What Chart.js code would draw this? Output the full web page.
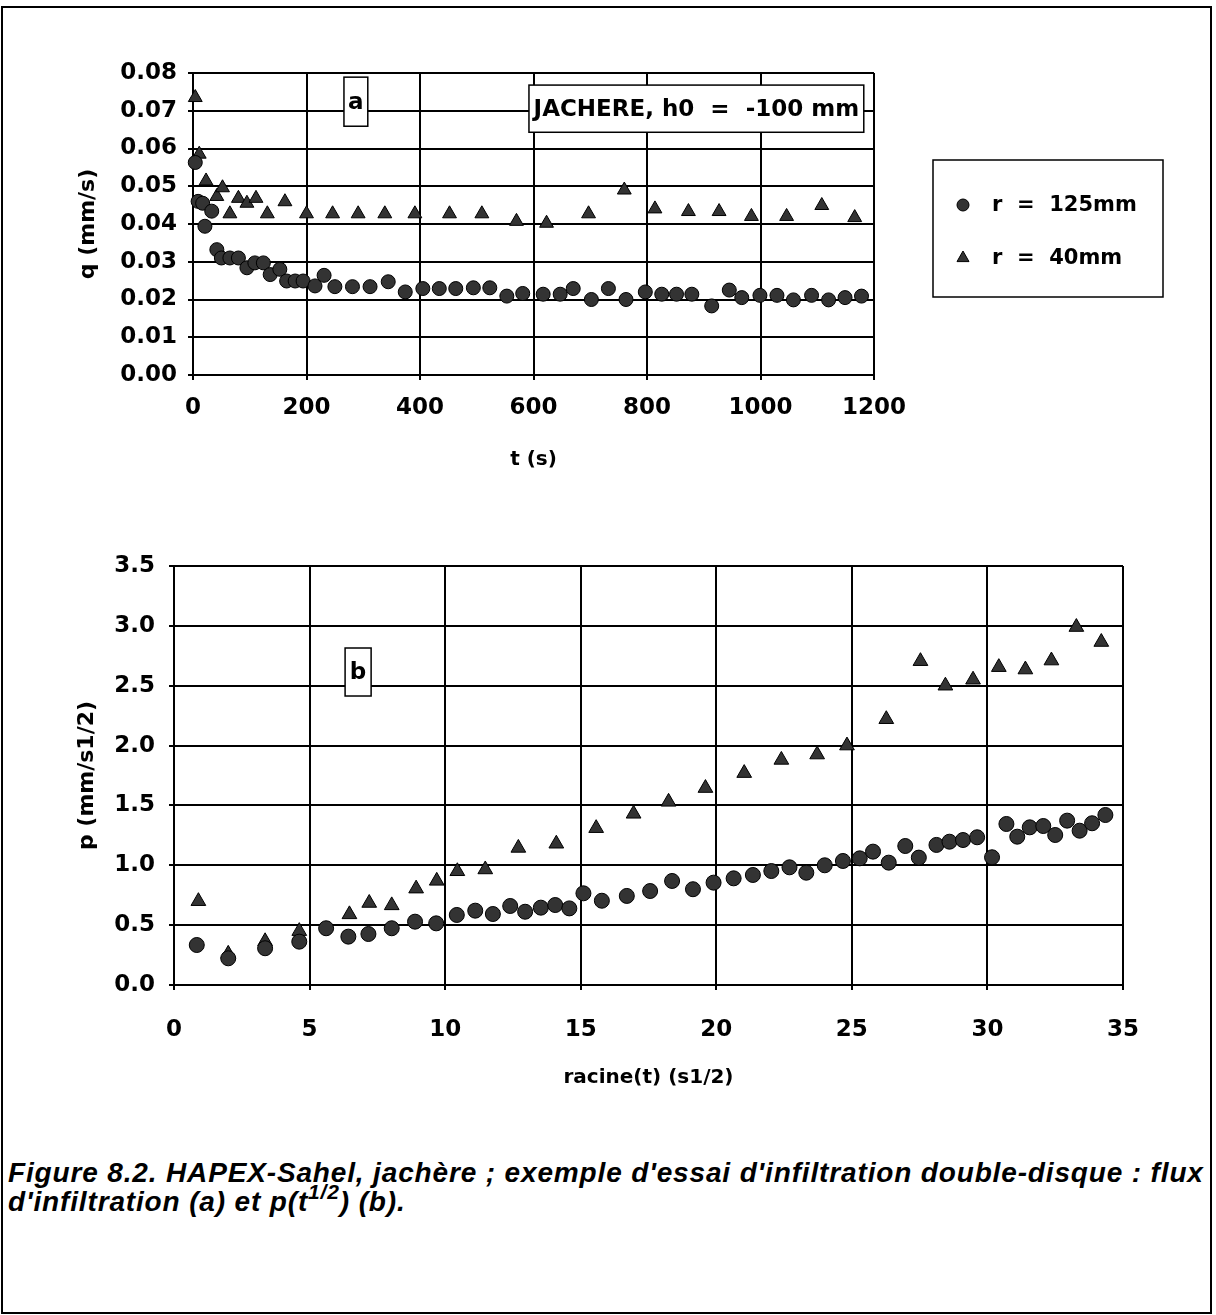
<!DOCTYPE html>
<html>
<head>
<meta charset="utf-8">
<script src="https://cdn.jsdelivr.net/npm/chart.js"></script>
<style>
  body { margin: 0; background: #fff; width: 1216px; height: 1315px; position: relative; overflow: hidden; }
  #frame { position: absolute; left: 1px; top: 6px; width: 1211px; height: 1308px; border: 2px solid #000; box-sizing: border-box; }
  canvas { position: absolute; left: 0; }
  #cA { top: 0; }
  #cB { top: 500px; }
  #caption { position: absolute; left: 8px; top: 1158px; font: italic bold 28px "Liberation Sans", Arial, sans-serif;
             letter-spacing: 0.85px; line-height: 29px; white-space: nowrap; color: #000; }
  #caption sup { font-size: 0.75em; line-height: 0; vertical-align: 0.55em; }
</style>
</head>
<body>
<div id="frame"></div>
<canvas id="cA" width="1216" height="500"></canvas>
<canvas id="cB" width="1216" height="600"></canvas>
<div id="caption">Figure 8.2. HAPEX-Sahel, jachère ; exemple d'essai d'infiltration double-disque : flux<br>d'infiltration (a) et p(t<sup>1/2</sup>) (b).</div>
<script>
"use strict";

// 1: data, (a) flux q against time t
const tA125 = [4, 9, 17, 21, 33, 42, 50, 65, 80, 95, 109, 124, 136, 153, 165, 180, 194, 215, 231, 250,
  281, 312, 344, 374, 405, 434, 463, 494, 523, 553, 581, 617, 647, 670, 702, 732, 763, 797, 826, 852,
  879, 914, 945, 967, 999, 1029, 1058, 1090, 1120, 1149, 1178];
const qA125 = [0.0563, 0.046, 0.0455, 0.0394, 0.0434, 0.0332, 0.031, 0.031, 0.031, 0.0284, 0.0297, 0.0297,
  0.0266, 0.028, 0.0249, 0.0249, 0.0249, 0.0236, 0.0264, 0.0234, 0.0234, 0.0234, 0.0247, 0.022, 0.0229,
  0.0229, 0.0229, 0.0231, 0.0231, 0.0209, 0.0216, 0.0214, 0.0214, 0.0229, 0.020, 0.0229, 0.020, 0.022,
  0.0214, 0.0214, 0.0214, 0.0183, 0.0225, 0.0205, 0.0211, 0.0211, 0.0199, 0.0211, 0.0199, 0.0205, 0.0209];
const tA40 = [4, 11, 23, 42, 52, 65, 80, 95, 111, 131, 162, 200, 246, 291, 338, 391, 452, 509, 570, 623,
  697, 760, 814, 873, 927, 984, 1046, 1108, 1166];
const qA40 = [0.0735, 0.0585, 0.0514, 0.0473, 0.0496, 0.0427, 0.0468, 0.0455, 0.0468, 0.0427, 0.0459, 0.0427,
  0.0427, 0.0427, 0.0427, 0.0427, 0.0427, 0.0427, 0.0407, 0.0402, 0.0427, 0.049, 0.044, 0.0433, 0.0433,
  0.042, 0.042, 0.0449, 0.0417];

// (b) p against racine(t)
const xB125 = [0.84, 2.0, 3.36, 4.62, 5.61, 6.43, 7.17, 8.03, 8.89, 9.67, 10.43, 11.11, 11.76, 12.4, 12.95,
  13.53, 14.06, 14.58, 15.1, 15.78, 16.7, 17.56, 18.37, 19.14, 19.9, 20.64, 21.35, 22.03, 22.7, 23.32, 24.0,
  24.67, 25.29, 25.78, 26.36, 26.97, 27.47, 28.12, 28.6, 29.1, 29.62, 30.17, 30.7, 31.1, 31.56, 32.06, 32.5,
  32.94, 33.4, 33.86, 34.35];
const pB125 = [0.334, 0.223, 0.307, 0.362, 0.474, 0.404, 0.426, 0.474, 0.529, 0.515, 0.585, 0.621, 0.593,
  0.66, 0.612, 0.646, 0.668, 0.64, 0.766, 0.704, 0.744, 0.785, 0.869, 0.80, 0.855, 0.891, 0.919, 0.952,
  0.983, 0.938, 1.0, 1.036, 1.058, 1.114, 1.022, 1.161, 1.064, 1.17, 1.197, 1.211, 1.234, 1.067, 1.345,
  1.239, 1.317, 1.328, 1.253, 1.373, 1.289, 1.351, 1.42];
const xB40 = [0.9, 2.0, 3.36, 4.62, 6.47, 7.2, 8.03, 8.93, 9.69, 10.45, 11.48, 12.7, 14.1, 15.57, 16.95,
  18.24, 19.6, 21.03, 22.4, 23.72, 24.82, 26.27, 27.53, 28.45, 29.47, 30.42, 31.4, 32.36, 33.28, 34.2];
const pB40 = [0.70, 0.26, 0.365, 0.45, 0.59, 0.685, 0.665, 0.805, 0.87, 0.95, 0.965, 1.145, 1.18, 1.31, 1.43,
  1.53, 1.645, 1.77, 1.88, 1.925, 2.0, 2.22, 2.705, 2.5, 2.55, 2.655, 2.635, 2.71, 2.99, 2.865];

const seriesLabels = ['r  =  125mm', 'r  =  40mm'];

// 2: helpers
function points(xs, ys) {
  return xs.map((x, i) => ({ x: x, y: ys[i] }));
}

function series(label, xs, ys, style, radius) {
  return {
    label: label,
    data: points(xs, ys),
    pointStyle: style,
    pointRadius: radius,
    pointHoverRadius: radius,
    backgroundColor: '#333',
    borderColor: '#000',
    borderWidth: 1,
    clip: false
  };
}

function axis(opt) {
  return {
    type: 'linear',
    min: opt.min,
    max: opt.max,
    afterFit: (s) => { if (opt.width) s.width = opt.width; if (opt.height) s.height = opt.height; },
    grid: { color: '#000', lineWidth: 2, tickLength: 5, tickColor: '#000' },
    border: { color: '#000', width: 2 },
    ticks: {
      stepSize: opt.step,
      padding: opt.tickPad,
      color: '#000',
      autoSkip: false,
      maxRotation: 0,
      font: { family: 'DejaVu Sans', weight: 'bold', size: 23 },
      callback: (v) => v.toFixed(opt.dec)
    },
    title: {
      display: true,
      text: opt.title,
      color: '#000',
      font: { family: 'DejaVu Sans', weight: 'bold', size: opt.titleSize },
      padding: opt.titlePad
    }
  };
}

// labelled boxes and legend drawn on top
const boxPlugin = {
  id: 'boxes',
  afterDraw(chart, args, opts) {
    const ctx = chart.ctx;
    const xs = chart.scales.x, ys = chart.scales.y;
    ctx.save();
    ctx.textAlign = 'center';
    ctx.textBaseline = 'middle';
    ctx.font = 'bold 23px "DejaVu Sans"';
    for (const b of opts.items || []) {
      const l = xs.getPixelForValue(b.x0), r = xs.getPixelForValue(b.x1);
      const t = ys.getPixelForValue(b.y0), bt = ys.getPixelForValue(b.y1);
      ctx.fillStyle = '#fff';
      ctx.fillRect(l, t, r - l, bt - t);
      ctx.lineWidth = 1.5;
      ctx.strokeStyle = '#000';
      ctx.strokeRect(l, t, r - l, bt - t);
      ctx.fillStyle = '#000';
      ctx.fillText(b.text, (l + r) / 2, (t + bt) / 2 + 1);
    }
    const lg = opts.legend;
    if (lg) {
      ctx.lineWidth = 1.5;
      ctx.strokeStyle = '#000';
      ctx.strokeRect(lg.left, lg.top, lg.width, lg.height);
      ctx.font = 'bold 21px "DejaVu Sans"';
      ctx.textAlign = 'left';
      chart.data.datasets.forEach((ds, i) => {
        const y = lg.rows[i], x = lg.markerX, r = 6;
        ctx.fillStyle = '#333';
        ctx.strokeStyle = '#000';
        ctx.lineWidth = 1;
        ctx.beginPath();
        if (ds.pointStyle === 'triangle') {
          ctx.moveTo(x, y - r - 1);
          ctx.lineTo(x + r, y + r * 0.6);
          ctx.lineTo(x - r, y + r * 0.6);
          ctx.closePath();
        } else {
          ctx.arc(x, y, r, 0, Math.PI * 2);
        }
        ctx.fill();
        ctx.stroke();
        ctx.fillStyle = '#000';
        ctx.fillText(ds.label, lg.textX, y + 1);
      });
    }
    ctx.restore();
  }
};

Chart.defaults.font.family = 'DejaVu Sans';
Chart.defaults.color = '#000';

// 3: chart (a)
new Chart(document.getElementById('cA'), {
  type: 'scatter',
  data: {
    datasets: [
      series(seriesLabels[0], tA125, qA125, 'circle', 7),
      series(seriesLabels[1], tA40, qA40, 'triangle', 8)
    ]
  },
  options: {
    responsive: false,
    animation: false,
    devicePixelRatio: 1,
    layout: { padding: { top: 73, right: 342, bottom: 0, left: 0 } },
    plugins: {
      legend: { display: false },
      tooltip: { enabled: false },
      boxes: {
        items: [
          { text: 'a', x0: 266, x1: 308, y0: 0.0789, y1: 0.0659 },
          { text: 'JACHERE, h0  =  -100 mm', x0: 592, x1: 1182, y0: 0.0768, y1: 0.0643 }
        ],
        legend: { left: 933, top: 160, width: 230, height: 137, rows: [205, 258], markerX: 963, textX: 992 }
      }
    },
    scales: {
      x: axis({ min: 0, max: 1200, step: 200, dec: 0, tickPad: 14, height: 125,
                title: 't (s)', titleSize: 20, titlePad: { top: 0, bottom: 28 } }),
      y: axis({ min: 0, max: 0.08, step: 0.01, dec: 2, tickPad: 11, width: 193,
                title: 'q (mm/s)', titleSize: 22, titlePad: { top: 75, bottom: 0 } })
    }
  },
  plugins: [boxPlugin]
});

// 4: chart (b)
new Chart(document.getElementById('cB'), {
  type: 'scatter',
  data: {
    datasets: [
      series(seriesLabels[0], xB125, pB125, 'circle', 7.5),
      series(seriesLabels[1], xB40, pB40, 'triangle', 8.5)
    ]
  },
  options: {
    responsive: false,
    animation: false,
    devicePixelRatio: 1,
    layout: { padding: { top: 66, right: 93, bottom: 0, left: 0 } },
    plugins: {
      legend: { display: false },
      tooltip: { enabled: false },
      boxes: {
        items: [
          { text: 'b', x0: 6.31, x1: 7.27, y0: 2.815, y1: 2.414 }
        ]
      }
    },
    scales: {
      x: axis({ min: 0, max: 35, step: 5, dec: 0, tickPad: 26, height: 115,
                title: 'racine(t) (s1/2)', titleSize: 20, titlePad: { top: 0, bottom: 10 } }),
      y: axis({ min: 0, max: 3.5, step: 0.5, dec: 1, tickPad: 14, width: 174,
                title: 'p (mm/s1/2)', titleSize: 22, titlePad: { top: 74, bottom: 0 } })
    }
  },
  plugins: [boxPlugin]
});
</script>
</body>
</html>
